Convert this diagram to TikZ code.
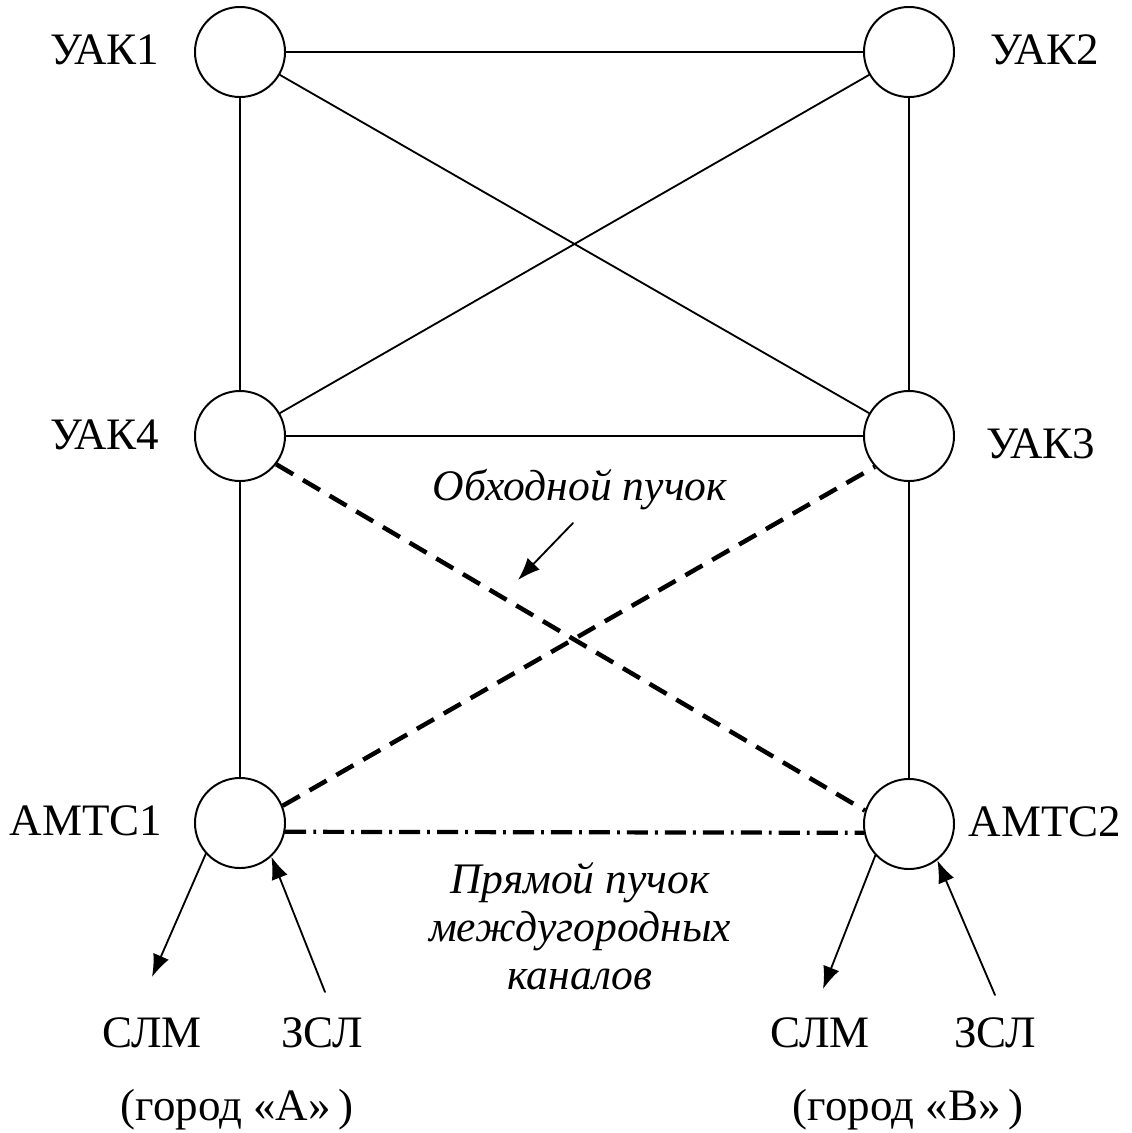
\documentclass[tikz,border=0pt]{standalone}
\usepackage{fontspec}
\setmainfont{Liberation Serif}
\usetikzlibrary{arrows.meta}
\begin{document}
\begin{tikzpicture}[x=0.025cm,y=-0.025cm,>={Latex[length=16pt,width=12pt]}, font=\fontsize{32}{34}\selectfont, line join=round, line cap=round,
  uzel/.style={circle,draw,line width=1.4pt,minimum size=2.25cm,inner sep=0pt},
  svyaz/.style={line width=1.3pt},
  kursiv/.style={font=\fontsize{31}{34}\selectfont\itshape},
  obhod/.style={line width=3.2pt,line cap=butt,dash pattern=on 14pt off 8pt},
  pryam/.style={line width=3pt,line cap=butt,dash pattern=on 15pt off 5pt on 2pt off 5pt}]
 \useasboundingbox (0,0) rectangle (1132,1133);
 % stations
 \node[uzel] (uak1) at (240,52) {};
 \node[uzel] (uak2) at (909,52) {};
 \node[uzel] (uak4) at (240,436) {};
 \node[uzel] (uak3) at (909,436) {};
 \node[uzel] (amts1) at (240,823) {};
 \node[uzel] (amts2) at (909,824) {};
 \node (luak1) at (105,50) {УАК1};
 \node (luak2) at (1045,50) {УАК2};
 \node (luak4) at (105,435) {УАК4};
 \node (luak3) at (1041,444) {УАК3};
 \node (lamts1) at (86,821) {АМТС1};
 \node (lamts2) at (1045,822) {АМТС2};
 % trunk lines
 \draw[svyaz] (uak1)--(uak2) (uak1)--(uak4) (uak2)--(uak3) (uak1)--(uak3) (uak2)--(uak4)
  (uak4)--(uak3) (uak4)--(amts1) (uak3)--(amts2);
 \draw[obhod] (uak4.-38)--(amts2.163) (amts1.22)--(uak3.222);
 \draw[pryam] (amts1.-11.5)--(amts2.191.5);
 \node[kursiv] (lobh) at (580,490) {Обходной пучок};
 \coordinate (obhs) at (573,523);
 \coordinate (obhe) at (518,580);
 \draw[svyaz,->] (obhs)--(obhe);
 \node[kursiv,align=center] (lpryam) at (580,926) {Прямой пучок\\междугородных\\каналов};
 % city A
 \coordinate (slm1) at (152,977);
 \coordinate (zsl1) at (325,992);
 \draw[svyaz,->] (amts1.222)--(slm1);
 \draw[svyaz,->] (zsl1)--(amts1.-47);
 \node (lslm1) at (152,1033) {СЛМ};
 \node (lzsl1) at (322,1033) {ЗСЛ};
 \node[anchor=base] (lgorA) at (237,1120) {(город «А»\,)};
 % city B
 \coordinate (slm2) at (823,989);
 \coordinate (zsl2) at (995,995);
 \draw[svyaz,->] (amts2.223)--(slm2);
 \draw[svyaz,->] (zsl2)--(amts2.-52);
 \node (lslm2) at (820,1033) {СЛМ};
 \node (lzsl2) at (995,1033) {ЗСЛ};
 \node[anchor=base] (lgorB) at (908,1120) {(город «В»\,)};
\end{tikzpicture}
\end{document}
